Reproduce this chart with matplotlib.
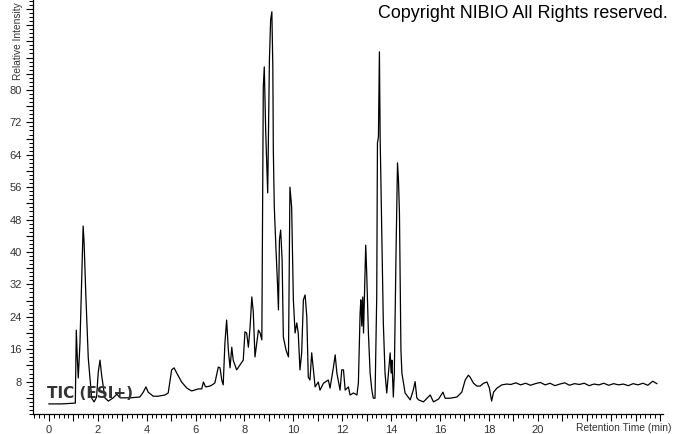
import numpy as np
import matplotlib.pyplot as plt
from matplotlib.ticker import MultipleLocator, FixedLocator

# retention time (min) and relative intensity
rt_head = [0.00, 0.53, 1.06, 1.08, 1.12, 1.16, 1.20, 1.27, 1.34, 1.40,
           1.44, 1.51, 1.61, 1.75, 1.85, 1.95, 2.02, 2.09, 2.16, 2.29,
           2.43, 2.63, 2.78, 2.91, 3.32, 3.72, 3.86, 3.97, 4.06, 4.27,
           4.47, 4.75, 4.88, 5.02, 5.12, 5.23, 5.43, 5.64, 5.84, 6.11,
           6.25, 6.32, 6.41, 6.59, 6.73, 6.79, 6.93, 7.00, 7.07, 7.13]
int_head = [2.5, 2.5, 2.7, 2.7, 20.7, 14.1, 8.9, 17.5, 33.1, 46.4,
            42.2, 29.4, 13.8, 3.9, 3.0, 4.2, 10.4, 13.3, 9.4, 4.0,
            3.2, 4.0, 4.9, 4.0, 4.0, 4.2, 5.4, 6.7, 5.4, 4.4,
            4.4, 4.7, 5.2, 10.9, 11.4, 10.1, 7.9, 6.4, 5.7, 6.2,
            6.2, 7.9, 6.7, 6.9, 7.4, 7.7, 11.6, 11.4, 8.4, 7.2]

rt_main = [7.20, 7.27, 7.34, 7.41, 7.48, 7.54, 7.68, 7.95, 8.02, 8.09,
           8.16, 8.23, 8.30, 8.36, 8.43, 8.50, 8.57, 8.64, 8.71, 8.73,
           8.77, 8.81, 8.87, 8.95, 9.02, 9.07, 9.12, 9.16, 9.18, 9.22,
           9.29, 9.35, 9.39, 9.43, 9.48, 9.54, 9.59, 9.70, 9.80, 9.86,
           9.93, 10.00, 10.07, 10.14, 10.20, 10.27, 10.34, 10.41, 10.48, 10.55,
           10.61, 10.68, 10.75, 10.89, 11.02, 11.09, 11.23, 11.43, 11.50, 11.64,
           11.71, 11.78, 11.91, 11.98, 12.05, 12.12, 12.25, 12.32, 12.46, 12.60]
int_main = [17.5, 23.2, 15.8, 11.4, 16.5, 13.3, 10.9, 13.3, 20.3, 20.0,
            16.5, 21.5, 28.9, 25.2, 14.1, 17.5, 20.7, 20.0, 18.3, 40.5,
            80.7, 85.7, 69.4, 54.6, 87.4, 97.3, 99.3, 85.7, 65.2, 51.1,
            40.5, 32.3, 25.7, 43.0, 45.4, 38.0, 19.0, 15.8, 14.1, 56.0,
            51.1, 28.2, 20.0, 22.5, 20.0, 10.9, 15.1, 28.2, 29.4, 24.0,
            9.1, 8.4, 15.1, 6.7, 7.9, 5.9, 7.6, 8.4, 6.4, 11.6,
            14.6, 10.1, 5.9, 10.9, 10.9, 5.9, 6.7, 4.7, 5.2, 4.7]

rt_late = [12.66, 12.73, 12.76, 12.80, 12.84, 12.87, 12.93, 12.96, 13.00, 13.07,
           13.14, 13.21, 13.27, 13.34, 13.41, 13.44, 13.48, 13.52, 13.55, 13.62,
           13.68, 13.75, 13.82, 13.89, 13.96, 14.00, 14.03, 14.09, 14.13, 14.20,
           14.26, 14.30, 14.34, 14.40, 14.44, 14.57, 14.78, 14.91, 14.98, 15.05,
           15.12, 15.32, 15.60, 15.73, 15.94, 16.12, 16.21, 16.41, 16.69, 16.89,
           17.03, 17.16, 17.23, 17.37, 17.51, 17.64, 17.78, 17.92, 18.02, 18.11,
           18.19, 18.33, 18.53, 18.73]
int_late = [7.7, 24.9, 28.2, 21.7, 28.9, 20.0, 34.8, 41.7, 34.8, 20.0,
            10.1, 5.9, 3.9, 3.9, 28.9, 66.9, 68.4, 89.4, 68.4, 43.0,
            22.5, 10.1, 5.2, 10.1, 15.1, 10.1, 13.3, 4.2, 10.1, 39.8,
            62.0, 57.8, 49.6, 15.8, 10.1, 5.2, 3.5, 6.0, 8.0, 4.0,
            3.5, 3.0, 4.7, 3.0, 3.7, 5.4, 3.9, 3.9, 4.2, 5.4,
            8.4, 9.6, 9.1, 7.6, 6.9, 6.9, 7.6, 7.9, 6.4, 3.2,
            5.4, 6.4, 7.2, 7.4]

rt_tail = [18.9, 19.1, 19.3, 19.5, 19.7, 19.9, 20.1, 20.3, 20.5, 20.7,
           20.9, 21.1, 21.3, 21.5, 21.7, 21.9, 22.1, 22.3, 22.5, 22.7,
           22.9, 23.1, 23.3, 23.5, 23.7, 23.9, 24.1, 24.3, 24.5, 24.7, 24.87]
int_tail = [7.3, 7.7, 7.2, 7.6, 7.1, 7.5, 7.8, 7.2, 7.6, 7.0,
            7.4, 7.7, 7.1, 7.5, 7.3, 7.6, 7.0, 7.4, 7.2, 7.6,
            7.1, 7.5, 7.2, 7.4, 7.0, 7.5, 7.2, 7.6, 7.1, 8.1, 7.5]

x_labels = [0, 2, 4, 6, 8, 10, 12, 14, 16, 18, 20]
y_labels = [8, 16, 24, 32, 40, 48, 56, 64, 72, 80]

rt = np.array(rt_head + rt_main + rt_late + rt_tail)
inten = np.array(int_head + int_main + int_late + int_tail)

plt.rcParams["font.family"] = ["Liberation Sans", "DejaVu Sans"]

fig = plt.figure(figsize=(6.74, 4.34), dpi=100)
ax = fig.add_axes([0.049, 0.046, 0.935, 0.954])

ax.plot(rt, inten, color="black", lw=0.9)

ax.set_xlim(-0.65, 25.13)
ax.set_ylim(0, 102.2)

for side in ("top", "right"):
    ax.spines[side].set_visible(False)
for side in ("left", "bottom"):
    ax.spines[side].set_linewidth(0.9)

# x ticks: labels every 2 min, longer ticks every 1, minor every 0.2
xt = np.arange(0, 25.01, 1)
ax.xaxis.set_major_locator(FixedLocator(xt))
ax.set_xticklabels([str(int(v)) if int(v) in x_labels else "" for v in xt])
ax.xaxis.set_minor_locator(MultipleLocator(0.2))

# y ticks: labels every 8, longer ticks every 4, minor every 1
yt = np.arange(4, 101, 4)
ax.yaxis.set_major_locator(FixedLocator(yt))
ax.set_yticklabels([str(int(v)) if int(v) in y_labels else "" for v in yt])
ax.yaxis.set_minor_locator(MultipleLocator(1))

ax.tick_params(which="major", length=5, width=0.8, labelsize=8, colors="black", pad=3)
ax.tick_params(which="minor", length=3, width=0.7)
ax.tick_params(axis="both", labelcolor="#333333")

fig.text(18 / 674, 1 - 80 / 434, "Relative Intensity", rotation=90,
         ha="center", va="bottom", fontsize=7.3, color="#333333")
fig.text(672 / 674, 1 - 428 / 434, "Retention Time (min)", ha="right",
         va="center", fontsize=7.4, color="#333333")
fig.text(668 / 674, 1 - 14 / 434, "Copyright NIBIO All Rights reserved.",
         ha="right", va="center", fontsize=12.9, color="black")
ax.text(-0.08, 5.0, "TIC (ESI+)", ha="left", va="center", fontsize=11,
        fontweight="bold", color="#333333", family=["DejaVu Sans"])

fig.savefig("out.png", dpi=100)
